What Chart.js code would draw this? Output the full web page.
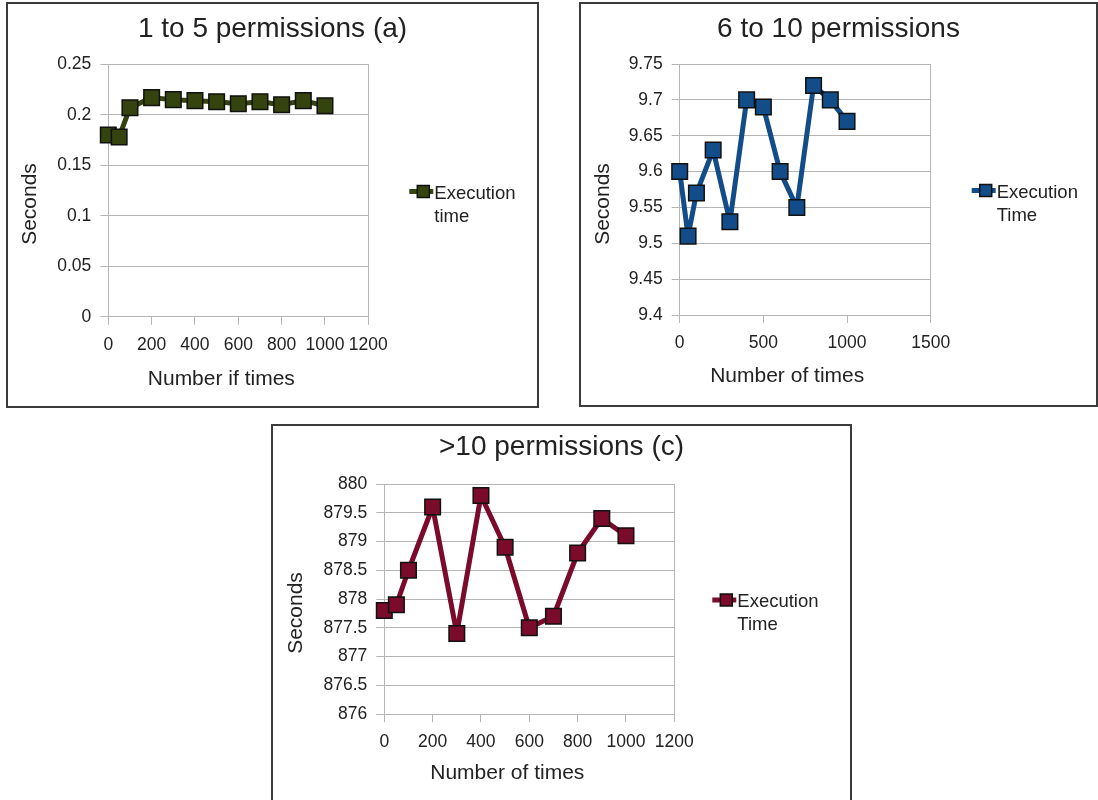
<!DOCTYPE html>
<html>
<head>
<meta charset="utf-8">
<script src="https://cdn.jsdelivr.net/npm/chart.js@4/dist/chart.umd.min.js"></script>
<style>
  html, body { margin: 0; padding: 0; background: #fff; overflow: hidden; width: 1098px; height: 800px; }
  .panel { position: absolute; box-sizing: border-box; border: 2px solid #3a3a3a; background: #fff; overflow: hidden; }
  .panel canvas { position: absolute; left: 0; top: 0; }
</style>
</head>
<body>
<div class="panel" style="left:6px;top:2px;width:533px;height:406px"><canvas id="chartA" width="529" height="402"></canvas></div>
<div class="panel" style="left:579px;top:2px;width:519px;height:405px"><canvas id="chartB" width="515" height="401"></canvas></div>
<div class="panel" style="left:271px;top:424px;width:581px;height:380px"><canvas id="chartC" width="577" height="376"></canvas></div>
<script>
// ---- data ----
const runsA = [0, 50, 100, 200, 300, 400, 500, 600, 700, 800, 900, 1000];
const secondsA = [0.180, 0.178, 0.207, 0.217, 0.215, 0.214, 0.213, 0.211, 0.213, 0.210, 0.214, 0.209];
const xTicksA = [0, 200, 400, 600, 800, 1000, 1200];
const yTicksA = [0, 0.05, 0.1, 0.15, 0.2, 0.25];

const runsB = [0, 50, 100, 200, 300, 400, 500, 600, 700, 800, 900, 1000];
const secondsB = [9.60, 9.51, 9.57, 9.63, 9.53, 9.70, 9.69, 9.60, 9.55, 9.72, 9.70, 9.67];
const xTicksB = [0, 500, 1000, 1500];
const yTicksB = [9.4, 9.45, 9.5, 9.55, 9.6, 9.65, 9.7, 9.75];

const runsC = [0, 50, 100, 200, 300, 400, 500, 600, 700, 800, 900, 1000];
const secondsC = [877.8, 877.9, 878.5, 879.6, 877.4, 879.8, 878.9, 877.5, 877.7, 878.8, 879.4, 879.1];
const xTicksC = [0, 200, 400, 600, 800, 1000, 1200];
const yTicksC = [876, 876.5, 877, 877.5, 878, 878.5, 879, 879.5, 880];

const titles = ['1 to 5 permissions (a)', '6 to 10 permissions', '>10 permissions (c)'];
const xTitles = ['Number if times', 'Number of times', 'Number of times'];
const yTitle = 'Seconds';
const legendLabels = [['Execution', 'time'], ['Execution', 'Time'], ['Execution', 'Time']];

// ---- styling ----
const FAMILY = "'Liberation Sans', Arial, sans-serif";
const GRID = '#b5b5b5';
const TEXT = '#222';
Chart.defaults.font.family = FAMILY;
Chart.defaults.color = TEXT;

// Axis titles and the side legend, placed relative to the plot area
const panelText = {
  id: 'panelText',
  afterDraw(chart, args, o) {
    const { ctx, chartArea: a } = chart;
    const cx = (a.left + a.right) / 2, cy = (a.top + a.bottom) / 2;
    ctx.save();
    ctx.fillStyle = TEXT;
    ctx.textAlign = 'center';
    ctx.textBaseline = 'middle';
    ctx.font = `21px ${FAMILY}`;
    ctx.fillText(o.xTitle, cx + o.xTitleDx, a.bottom + o.xTitleDy);
    ctx.save();
    ctx.translate(a.left + o.yTitleDx, cy + o.yTitleDy);
    ctx.rotate(-Math.PI / 2);
    ctx.fillText(o.yTitle, 0, 0);
    ctx.restore();

    // legend: line sample with square marker, two-line label
    const mx = a.right + o.legendDx, my = cy + 1;
    ctx.strokeStyle = o.color;
    ctx.lineWidth = 5;
    ctx.beginPath();
    ctx.moveTo(mx - 14, my);
    ctx.lineTo(mx + 10, my);
    ctx.stroke();
    ctx.fillStyle = o.color;
    ctx.fillRect(mx - 6, my - 6, 12, 12);
    ctx.strokeStyle = '#111';
    ctx.lineWidth = 1.5;
    ctx.strokeRect(mx - 6, my - 6, 12, 12);
    ctx.fillStyle = TEXT;
    ctx.textAlign = 'left';
    ctx.font = `18.5px ${FAMILY}`;
    o.legend.forEach((line, i) => ctx.fillText(line, mx + 11, my + 2 + i * 23));
    ctx.restore();
  }
};

function makeChart(id, p) {
  const points = p.runs.map((r, i) => ({ x: r, y: p.seconds[i] }));
  return new Chart(document.getElementById(id), {
    type: 'line',
    data: {
      datasets: [{
        data: points,
        borderColor: p.color,
        backgroundColor: p.color,
        borderWidth: 5,
        borderJoinStyle: 'round',
        borderCapStyle: 'round',
        tension: 0,
        pointStyle: 'rect',
        pointRadius: 11,
        pointHoverRadius: 11,
        pointBorderWidth: 1.5,
        pointBorderColor: '#111',
        pointBackgroundColor: p.color,
        clip: false,
        yAxisID: 'y'
      }]
    },
    options: {
      responsive: false,
      animation: false,
      devicePixelRatio: 1,
      layout: { padding: 0 },
      plugins: {
        legend: { display: false },
        tooltip: { enabled: false },
        title: {
          display: true,
          text: p.title,
          color: TEXT,
          font: { size: 28, weight: 'normal', lineHeight: 1.2 },
          padding: { top: p.titleTop, bottom: p.titleBottom }
        },
        panelText: {
          xTitle: p.xTitle, xTitleDx: p.xTitleDx, xTitleDy: p.xTitleDy,
          yTitle: yTitle, yTitleDx: p.yTitleDx, yTitleDy: p.yTitleDy,
          legend: p.legend, legendDx: p.legendDx, color: p.color
        }
      },
      scales: {
        x: {
          type: 'linear',
          min: p.xTicks[0],
          max: p.xTicks[p.xTicks.length - 1],
          afterBuildTicks: s => { s.ticks = p.xTicks.map(v => ({ value: v })); },
          afterFit: s => { s.height = p.xAxisH; },
          ticks: { callback: v => String(v), autoSkip: false, maxRotation: 0, padding: 9.5, font: { size: 17.5 }, color: TEXT },
          grid: { drawOnChartArea: false, drawTicks: true, tickLength: 8, color: GRID },
          border: { color: GRID }
        },
        y: {
          type: 'linear',
          min: p.yTicks[0],
          max: p.yTicks[p.yTicks.length - 1],
          afterBuildTicks: s => { s.ticks = p.yTicks.map(v => ({ value: v })); },
          afterFit: s => { s.width = p.yAxisW; },
          ticks: { callback: v => String(v), padding: 9, font: { size: 17.5 }, color: TEXT },
          grid: { color: GRID, tickLength: 8 },
          border: { color: GRID }
        },
        side: {
          type: 'linear',
          position: 'right',
          afterFit: s => { s.width = p.sideW; },
          ticks: { display: false },
          grid: { drawOnChartArea: false, drawTicks: false },
          border: { display: true, color: GRID }
        }
      }
    },
    plugins: [panelText]
  });
}

makeChart('chartA', {
  runs: runsA, seconds: secondsA, xTicks: xTicksA, yTicks: yTicksA,
  title: titles[0], xTitle: xTitles[0], legend: legendLabels[0], color: '#35430f',
  titleTop: 8.7, titleBottom: 18, yAxisW: 100.3, xAxisH: 89.3, sideW: 168.7,
  xTitleDx: -17, xTitleDy: 62.3, yTitleDx: -78.3, yTitleDy: 13.5, legendDx: 55
});

makeChart('chartB', {
  runs: runsB, seconds: secondsB, xTicks: xTicksB, yTicks: yTicksB,
  title: titles[1], xTitle: xTitles[1], legend: legendLabels[1], color: '#124c89',
  titleTop: 8.2, titleBottom: 18.2, yAxisW: 98.7, xAxisH: 90, sideW: 165.3,
  xTitleDx: -18, xTitleDy: 61.7, yTitleDx: -76.7, yTitleDy: 14.5, legendDx: 55
});

makeChart('chartC', {
  runs: runsC, seconds: secondsC, xTicks: xTicksC, yTicks: yTicksC,
  title: titles[2], xTitle: xTitles[2], legend: legendLabels[2], color: '#7a0b2b',
  titleTop: 4.2, titleBottom: 20.2, yAxisW: 111.3, xAxisH: 88, sideW: 175.7,
  xTitleDx: -22, xTitleDy: 59.3, yTitleDx: -88.3, yTitleDy: 14, legendDx: 52
});
</script>
</body>
</html>
